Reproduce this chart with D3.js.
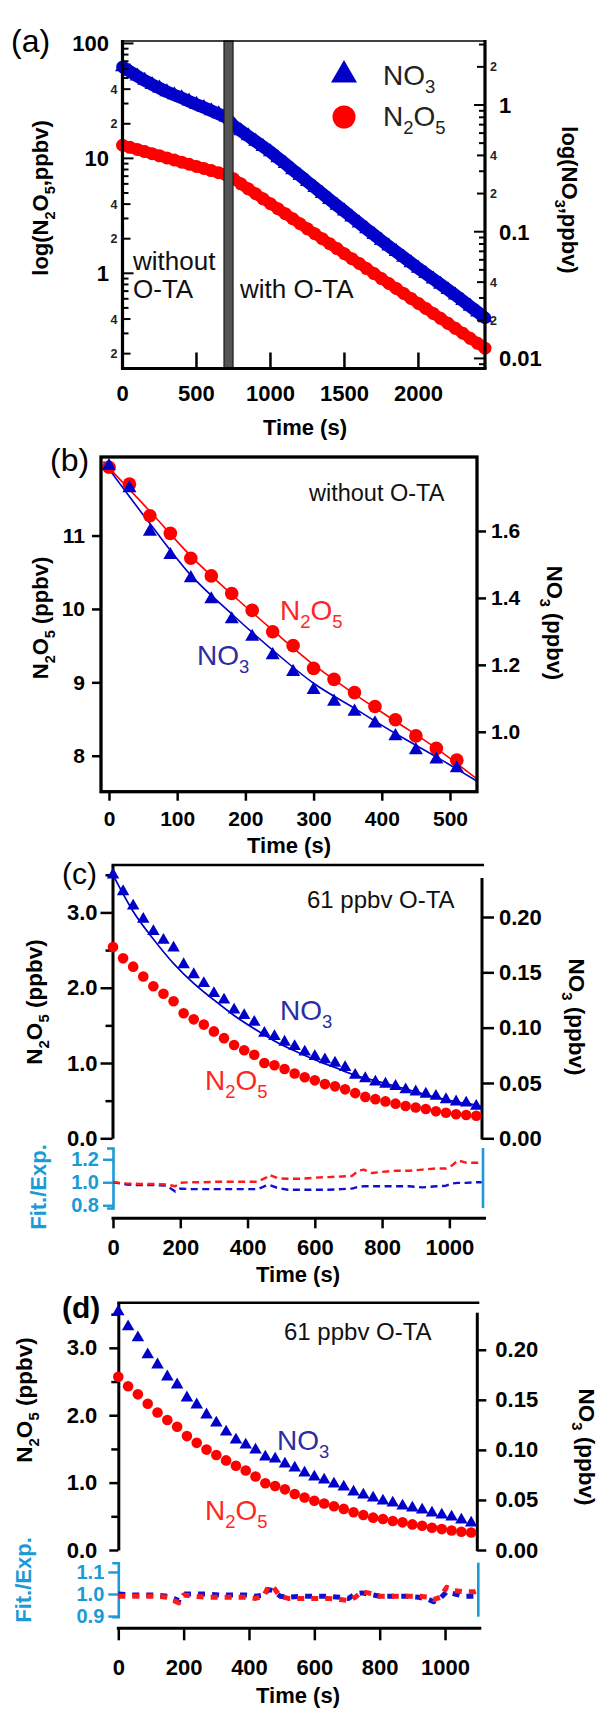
<!DOCTYPE html>
<html><head><meta charset="utf-8">
<script src="https://cdn.jsdelivr.net/npm/d3@7/dist/d3.min.js"></script>
<style>body{margin:0;background:#fff}</style>
</head><body>
<script>
// ---------------- DATA ----------------
// Panel (a): log plot, full experiment
const timeA = [0,50,100,150,200,250,300,350,400,450,500,550,600,650,700,750,800,850,900,950,1000,1050,1100,1150,1200,1250,1300,1350,1400,1450,1500,1550,1600,1650,1700,1750,1800,1850,1900,1950,2000,2050,2100,2150,2200,2250,2300,2350,2400,2450];
const no3A = [2.00,1.84,1.69,1.56,1.45,1.36,1.27,1.20,1.14,1.07,1.01,0.955,0.90,0.85,0.80,0.689,0.625,0.569,0.516,0.470,0.427,0.383,0.344,0.308,0.277,0.248,0.223,0.200,0.179,0.161,0.145,0.130,0.117,0.105,0.0946,0.0851,0.0769,0.0695,0.0628,0.0568,0.0513,0.0466,0.0423,0.0384,0.0348,0.0316,0.0285,0.0257,0.0232,0.0209];
const n2o5A = [13.0,12.47,11.97,11.46,10.99,10.52,10.09,9.68,9.27,8.89,8.51,8.17,7.83,7.50,7.19,6.64,6.00,5.43,4.92,4.45,4.03,3.65,3.30,2.99,2.70,2.44,2.21,2.00,1.81,1.64,1.48,1.34,1.22,1.10,0.995,0.90,0.815,0.738,0.668,0.604,0.547,0.495,0.448,0.406,0.367,0.332,0.301,0.272,0.246,0.223];
const otaBarA = [686, 747];
const xTicksA = [0,500,1000,1500,2000];

// Panel (b): without O-TA
const timeB = [0,30,60,90,120,150,180,210,240,270,300,330,360,390,420,450,480,510];
const n2o5B = [11.93,11.70,11.27,11.03,10.69,10.45,10.21,9.98,9.69,9.50,9.19,9.04,8.86,8.67,8.49,8.27,8.10,7.94];
const no3B = [1.794,1.728,1.598,1.528,1.459,1.396,1.336,1.284,1.229,1.179,1.125,1.090,1.060,1.025,0.987,0.945,0.917,0.891];
const fitTimeB = [-8,60,120,180,240,300,360,420,480,540];
const fitN2o5B = [12.0,11.33,10.72,10.20,9.71,9.24,8.84,8.47,8.10,7.68];
const fitNo3B = [1.807,1.622,1.468,1.352,1.244,1.145,1.070,0.995,0.925,0.852];
const xTicksB = [0,100,200,300,400,500];
const yTicksBL = [8,9,10,11];
const yTicksBR = [1.0,1.2,1.4,1.6];

// Panel (c): 61 ppbv O-TA, fit 1
const timeC = [0,30,60,90,120,150,180,210,240,270,300,330,360,390,420,450,480,510,540,570,600,630,660,690,720,750,780,810,840,870,900,930,960,990,1020,1050,1080];
const n2o5C = [2.54,2.39,2.28,2.15,2.02,1.92,1.82,1.66,1.58,1.51,1.42,1.33,1.24,1.17,1.11,1.00,0.97,0.92,0.86,0.81,0.77,0.72,0.69,0.65,0.60,0.55,0.52,0.49,0.46,0.43,0.41,0.39,0.36,0.34,0.32,0.31,0.30];
const no3C = [0.238,0.223,0.210,0.198,0.187,0.179,0.172,0.157,0.148,0.140,0.131,0.125,0.116,0.111,0.105,0.095,0.092,0.087,0.083,0.078,0.074,0.071,0.068,0.064,0.057,0.054,0.051,0.049,0.047,0.044,0.042,0.040,0.038,0.035,0.033,0.032,0.029];
const fitTimeC = [0,60,120,180,240,300,360,420,480,540,600,660,720,780,840,900,960,1020,1080,1096];
const fitNo3C = [0.238,0.205,0.180,0.158,0.140,0.125,0.111,0.099,0.088,0.079,0.071,0.064,0.057,0.052,0.047,0.042,0.037,0.033,0.030,0.029];
const resTimeC = [0,40,80,120,160,185,200,230,270,310,350,390,430,455,465,490,520,560,600,640,680,710,730,745,770,800,840,880,920,960,990,1010,1025,1050,1080,1096];
const resN2o5C = [1.00,0.99,0.985,0.985,0.98,0.965,0.995,1.0,1.0,1.005,1.005,1.005,1.005,1.04,1.065,1.035,1.03,1.03,1.04,1.045,1.05,1.055,1.10,1.11,1.08,1.09,1.10,1.10,1.11,1.12,1.12,1.15,1.19,1.17,1.17,1.17];
const resNo3C = [1.00,0.98,0.975,0.975,0.97,0.92,0.945,0.94,0.94,0.94,0.94,0.94,0.94,0.97,0.975,0.95,0.935,0.935,0.935,0.935,0.94,0.945,0.96,0.965,0.965,0.965,0.965,0.965,0.955,0.965,0.97,0.99,0.995,0.995,1.0,1.0];

// Panel (d): 61 ppbv O-TA, fit 2
const timeD = timeC;
const n2o5D = [2.57,2.43,2.31,2.17,2.04,1.93,1.83,1.69,1.59,1.49,1.41,1.33,1.25,1.18,1.09,0.99,0.95,0.90,0.83,0.78,0.73,0.69,0.65,0.61,0.56,0.52,0.48,0.46,0.43,0.41,0.38,0.36,0.33,0.31,0.29,0.27,0.26];
const no3D = [0.238,0.223,0.212,0.195,0.185,0.173,0.165,0.152,0.145,0.135,0.127,0.118,0.110,0.105,0.100,0.093,0.091,0.086,0.082,0.077,0.073,0.070,0.066,0.063,0.058,0.055,0.052,0.049,0.047,0.044,0.042,0.040,0.037,0.035,0.033,0.030,0.027];
const resTimeD = [0,40,80,120,150,170,185,200,230,270,310,350,390,420,445,460,475,495,520,560,600,640,680,705,725,745,765,800,840,880,920,950,965,985,1005,1030,1060,1090,1100];
const resN2o5D = [0.99,0.99,0.99,0.99,0.985,0.97,0.96,0.995,0.99,0.985,0.985,0.985,0.985,0.98,0.99,1.035,1.03,0.99,0.98,0.98,0.98,0.98,0.975,0.97,0.985,1.01,1.005,0.99,0.99,0.99,0.99,0.985,0.975,0.985,1.03,1.015,1.01,1.01,1.015];
const resNo3D = [1.0,0.995,0.995,0.995,0.99,0.98,0.97,1.0,1.0,1.0,0.995,0.995,0.995,0.99,0.995,1.02,1.015,0.99,0.985,0.99,0.99,0.99,0.985,0.98,1.0,1.005,1.0,0.99,0.99,0.99,0.985,0.975,0.965,0.98,1.01,1.0,0.99,0.99,1.0];

const xTicksCD = [0,200,400,600,800,1000];
const yTicksCDL = [0,1,2,3];
const yMinorCDL = [0.5,1.5,2.5,3.5];
const yTicksCDR = [0,0.05,0.10,0.15,0.20];
const resTicksC = [0.8,1.0,1.2];
const resTicksD = [0.9,1.0,1.1];

// ---------------- STYLE ----------------
const FONT = 'Arial, "Liberation Sans", sans-serif';
const BLUE = "#0000c8", RED = "#ff0000", NAVY = "#2c2ca4", LRED = "#ff2626", LB = "#1b9ad6";

const svg = d3.select("body").append("svg").attr("width",611).attr("height",1709)
  .style("font-family",FONT);

function rich(parent, x, y, parts, size, o={}) {
  const t = parent.append("text").attr("x",x).attr("y",y).attr("font-size",size)
    .attr("font-weight",o.bold?"bold":"normal").attr("fill",o.fill||"#000")
    .attr("text-anchor",o.anchor||"start").attr("font-family",FONT);
  if (o.rotate) t.attr("transform",`rotate(${o.rotate},${x},${y})`);
  let cur = 0;
  parts.forEach(p => {
    const sub = typeof p !== "string";
    const ts = t.append("tspan").text(sub ? p.sub : p);
    const want = sub ? size*0.3 : 0;
    if (want !== cur) { ts.attr("dy", want-cur); cur = want; }
    if (sub) ts.attr("font-size", size*0.66);
  });
  return t;
}
function styleAxis(g, o={}) {
  const color = o.color||"#000";
  g.attr("font-family",FONT).attr("font-size",o.fs||22).attr("font-weight","bold");
  g.selectAll("path.domain").attr("stroke",color).attr("stroke-width",o.sw||3);
  g.selectAll(".tick line").attr("stroke",color).attr("stroke-width",o.tw||2.5);
  g.selectAll(".tick text").attr("fill",color);
  if (o.noDomain) g.selectAll("path.domain").remove();
  return g;
}
const triArea = s => s*s*Math.sqrt(3)/4;
function triangles(g, xs, ys, xsc, ysc, side, color) {
  g.selectAll(null).data(ys).join("path")
    .attr("transform",(d,i)=>`translate(${xsc(xs[i])},${ysc(d)})`)
    .attr("d", d3.symbol(d3.symbolTriangle, triArea(side))())
    .attr("fill",color);
}
function circles(g, xs, ys, xsc, ysc, r, color) {
  g.selectAll(null).data(ys).join("circle")
    .attr("cx",(d,i)=>xsc(xs[i])).attr("cy",d=>ysc(d)).attr("r",r).attr("fill",color);
}
function pathLine(g, xs, ys, xsc, ysc, color, w, curve, dash) {
  const p = g.append("path").datum(ys)
    .attr("d", d3.line().x((d,i)=>xsc(xs[i])).y(d=>ysc(d)).curve(curve||d3.curveLinear))
    .attr("fill","none").attr("stroke",color).attr("stroke-width",w)
    .attr("stroke-linejoin","round");
  if (dash) p.attr("stroke-dasharray",dash);
  return p;
}

// ---------------- PANEL (a) ----------------
{
  const g = svg.append("g");
  const xA = d3.scaleLinear().domain([0,2450]).range([122.5,485]);
  const yAL = d3.scaleLog().domain([0.15,105]).range([368,41]);
  const yAR = d3.scaleLog().domain([0.0084,3.2]).range([368,41]);

  pathLine(g, timeA, n2o5A, xA, yAL, RED, 11).attr("stroke-linecap","round");
  circles(g, timeA, n2o5A, xA, yAL, 6.5, RED);
  pathLine(g, timeA, no3A, xA, yAR, BLUE, 12.5).attr("stroke-linecap","round");
  triangles(g, timeA, no3A, xA, yAR, 15, BLUE);

  // O-TA addition bar
  g.append("rect").attr("x",xA(otaBarA[0])).attr("y",41)
    .attr("width",xA(otaBarA[1])-xA(otaBarA[0])).attr("height",327)
    .attr("fill","#555").attr("stroke","#1a1a1a").attr("stroke-width",1.2);

  // frame
  g.append("line").attr("x1",122.5).attr("x2",485).attr("y1",41).attr("y2",41).attr("stroke","#000").attr("stroke-width",1.5);
  g.append("line").attr("x1",121).attr("x2",486.5).attr("y1",368.5).attr("y2",368.5).attr("stroke","#000").attr("stroke-width",3);
  g.append("line").attr("x1",122.5).attr("x2",122.5).attr("y1",40).attr("y2",369).attr("stroke","#000").attr("stroke-width",3.2);
  g.append("line").attr("x1",485).attr("x2",485).attr("y1",40).attr("y2",369).attr("stroke","#000").attr("stroke-width",3.2);

  // log ticks (inward)
  const tl = m => m===1 ? 11 : (m===2||m===4 ? 8 : 6);
  yAL.ticks().forEach(v => {
    const m = Math.round(v/Math.pow(10,Math.floor(Math.log10(v)+1e-9)));
    g.append("line").attr("x1",122.5).attr("x2",122.5+tl(m)).attr("y1",yAL(v)).attr("y2",yAL(v))
      .attr("stroke","#000").attr("stroke-width",2);
    if (m===1) g.append("text").attr("x",109).attr("y",yAL(v)+8).attr("text-anchor","end")
      .attr("font-size",22).attr("font-weight","bold").text(d3.format("d")(v));
    else if (m===2||m===4) g.append("text").attr("x",117.5).attr("y",yAL(v)+4.5).attr("text-anchor","end")
      .attr("font-size",12.5).attr("font-weight","bold").attr("fill","#222").text(m);
  });
  yAR.ticks().forEach(v => {
    const m = Math.round(v/Math.pow(10,Math.floor(Math.log10(v)+1e-9)));
    g.append("line").attr("x1",485).attr("x2",485-tl(m)).attr("y1",yAR(v)).attr("y2",yAR(v))
      .attr("stroke","#000").attr("stroke-width",2);
    if (m===1) g.append("text").attr("x",499).attr("y",yAR(v)+8)
      .attr("font-size",22).attr("font-weight","bold").text(String(v));
    else if (m===2||m===4) g.append("text").attr("x",490).attr("y",yAR(v)+4.5)
      .attr("font-size",12.5).attr("font-weight","bold").attr("fill","#222").text(m);
  });
  xTicksA.forEach(v => {
    g.append("line").attr("x1",xA(v)).attr("x2",xA(v)).attr("y1",368).attr("y2",352.5)
      .attr("stroke","#000").attr("stroke-width",2.5);
    g.append("text").attr("x",xA(v)).attr("y",401).attr("text-anchor","middle")
      .attr("font-size",22).attr("font-weight","bold").text(v);
  });
  g.append("text").attr("x",305).attr("y",435).attr("text-anchor","middle")
    .attr("font-size",22).attr("font-weight","bold").text("Time (s)");
  rich(g, 48, 198, ["log(N",{sub:"2"},"O",{sub:"5"},",ppbv)"], 22, {bold:true,anchor:"middle",rotate:-90});
  rich(g, 562, 200, ["log(NO",{sub:"3"},",ppbv)"], 22, {bold:true,anchor:"middle",rotate:90});
  g.append("text").attr("x",11).attr("y",52).attr("font-size",32).text("(a)");
  g.append("text").attr("x",133).attr("y",270).attr("font-size",26).attr("fill","#111").text("without");
  g.append("text").attr("x",133).attr("y",298).attr("font-size",26).attr("fill","#111").text("O-TA");
  g.append("text").attr("x",240).attr("y",298).attr("font-size",26).attr("fill","#111").text("with O-TA");
  // legend
  g.append("path").attr("transform","translate(344,75)").attr("d",d3.symbol(d3.symbolTriangle,triArea(26))()).attr("fill",BLUE);
  g.append("circle").attr("cx",344).attr("cy",117).attr("r",11.5).attr("fill",RED);
  rich(g, 383, 85, ["NO",{sub:"3"}], 28, {fill:"#222"});
  rich(g, 383, 126, ["N",{sub:"2"},"O",{sub:"5"}], 28, {fill:"#222"});
}

// ---------------- PANEL (b) ----------------
{
  const g = svg.append("g");
  const xB = d3.scaleLinear().domain([-11.7,539.6]).range([101,477]);
  const yBL = d3.scaleLinear().domain([7.51,12.07]).range([791.7,457]);
  const yBR = d3.scaleLinear().domain([0.821,1.821]).range([791.7,457]);

  styleAxis(g.append("g").attr("transform","translate(101,0)")
    .call(d3.axisLeft(yBL).tickValues(yTicksBL).tickSize(9).tickPadding(7).tickFormat(d3.format("d"))), {fs:21,noDomain:true});
  styleAxis(g.append("g").attr("transform","translate(477,0)")
    .call(d3.axisRight(yBR).tickValues(yTicksBR).tickSize(9).tickPadding(5).tickFormat(d3.format(".1f"))), {fs:21,noDomain:true});
  styleAxis(g.append("g").attr("transform","translate(0,791.7)")
    .call(d3.axisBottom(xB).tickValues(xTicksB).tickSize(9).tickPadding(10).tickFormat(d3.format("d"))), {fs:21,noDomain:true});

  g.append("clipPath").attr("id","clipB").append("rect").attr("x",101).attr("y",457).attr("width",376).attr("height",334.7);
  const inner = g.append("g").attr("clip-path","url(#clipB)");
  pathLine(inner, fitTimeB, fitN2o5B, xB, yBL, RED, 1.6, d3.curveMonotoneX);
  pathLine(inner, fitTimeB, fitNo3B, xB, yBR, BLUE, 1.6, d3.curveMonotoneX);
  const mk = g.append("g");
  circles(mk, timeB, n2o5B, xB, yBL, 6.8, RED);
  triangles(mk, timeB, no3B, xB, yBR, 14, BLUE);

  g.append("rect").attr("x",101).attr("y",457).attr("width",376).attr("height",334.7)
    .attr("fill","none").attr("stroke","#000").attr("stroke-width",3.3);

  g.append("text").attr("x",289).attr("y",853).attr("text-anchor","middle")
    .attr("font-size",22).attr("font-weight","bold").text("Time (s)");
  rich(g, 48, 618, ["N",{sub:"2"},"O",{sub:"5"}," (ppbv)"], 22, {bold:true,anchor:"middle",rotate:-90});
  rich(g, 547, 623, ["NO",{sub:"3"}," (ppbv)"], 22, {bold:true,anchor:"middle",rotate:90});
  g.append("text").attr("x",50).attr("y",471).attr("font-size",32).text("(b)");
  g.append("text").attr("x",309).attr("y",501).attr("font-size",23.5).attr("fill","#111").text("without O-TA");
  rich(g, 280, 620, ["N",{sub:"2"},"O",{sub:"5"}], 28, {fill:LRED});
  rich(g, 197, 665, ["NO",{sub:"3"}], 28, {fill:NAVY});
}

// ---------------- PANELS (c) & (d) ----------------
function kineticPanel(cfg) {
  const g = svg.append("g");
  const x = d3.scaleLinear().domain([0,1100]).range([cfg.x0, cfg.x1]);
  const yL = d3.scaleLinear().domain([0,cfg.lMax]).range([cfg.yb, cfg.yt]);
  const yR = d3.scaleLinear().domain([0,0.247]).range([cfg.yb, cfg.yt]);
  const r = d3.scaleLinear().domain(cfg.rDom).range([cfg.rb, cfg.rt]);

  // left main axis
  styleAxis(g.append("g").attr("transform",`translate(${cfg.ax},0)`)
    .call(d3.axisLeft(yL).tickValues(yTicksCDL).tickSize(cfg.tl).tickSizeOuter(0).tickPadding(cfg.lpad).tickFormat(d3.format(".1f"))), {fs:22});
  styleAxis(g.append("g").attr("transform",`translate(${cfg.ax},0)`)
    .call(d3.axisLeft(yL).tickValues(yMinorCDL).tickSize(7).tickFormat("")), {noDomain:true});
  // right main axis
  styleAxis(g.append("g").attr("transform",`translate(${cfg.bx},0)`)
    .call(d3.axisRight(yR).tickValues(yTicksCDR).tickSize(cfg.tl).tickPadding(cfg.rpad).tickFormat(d3.format(".2f"))), {fs:22,noDomain:true});
  g.append("line").attr("x1",cfg.bx).attr("x2",cfg.bx).attr("y1",cfg.rTop).attr("y2",cfg.yb+1.2).attr("stroke","#000").attr("stroke-width",3);
  // top line
  g.append("line").attr("x1",cfg.ax-1).attr("x2",cfg.bx+2).attr("y1",cfg.yt).attr("y2",cfg.yt).attr("stroke","#000").attr("stroke-width",2.5);

  // residual axes
  styleAxis(g.append("g").attr("transform",`translate(${cfg.x0},0)`)
    .call(d3.axisLeft(r).tickValues(cfg.rTicks).tickSize(10).tickSizeOuter(6).tickPadding(4).tickFormat(d3.format(".1f"))), {fs:20,color:LB,sw:2.6,tw:2.4});
  g.append("line").attr("x1",cfg.bx+1).attr("x2",cfg.bx+1).attr("y1",cfg.rt).attr("y2",cfg.rb).attr("stroke",LB).attr("stroke-width",2.6);

  // x axis
  styleAxis(g.append("g").attr("transform",`translate(0,${cfg.xy})`)
    .call(d3.axisBottom(x).tickValues(xTicksCD).tickSize(cfg.xtl).tickPadding(cfg.xpad).tickFormat(d3.format("d"))), {fs:22,noDomain:true});
  g.append("line").attr("x1",cfg.x0-1.5).attr("x2",cfg.bx+4).attr("y1",cfg.xy).attr("y2",cfg.xy).attr("stroke","#000").attr("stroke-width",3);

  // data
  const dg = g.append("g");
  if (cfg.fitNo3) pathLine(dg, cfg.fitT, cfg.fitNo3, x, yR, BLUE, 1.6, d3.curveMonotoneX);
  circles(dg, cfg.t, cfg.n2o5, x, yL, 5.3, RED);
  triangles(dg, cfg.t, cfg.no3, x, yR, 12.5, BLUE);
  if (cfg.fitNo3) pathLine(dg, cfg.fitT, cfg.fitNo3, x, yR, BLUE, 1.2, d3.curveMonotoneX).attr("opacity",0.6);

  // residuals
  pathLine(dg, cfg.resT, cfg.resNo3, x, r, "#1010d0", cfg.rw, d3.curveLinear, cfg.dash);
  pathLine(dg, cfg.resT, cfg.resN2o5, x, r, "#ff1a1a", cfg.rw, d3.curveLinear, cfg.dash);

  // texts
  g.append("text").attr("x",(cfg.x0+cfg.x1)/2).attr("y",cfg.timeY).attr("text-anchor","middle")
    .attr("font-size",22).attr("font-weight","bold").text("Time (s)");
  rich(g, cfg.llx, cfg.lly, ["N",{sub:"2"},"O",{sub:"5"}," (ppbv)"], 22.5, {bold:true,anchor:"middle",rotate:-90});
  rich(g, cfg.rlx, cfg.rly, ["NO",{sub:"3"}," (ppbv)"], 22.5, {bold:true,anchor:"middle",rotate:90});
  rich(g, cfg.fex, cfg.fey, ["Fit./Exp."], 22, {bold:true,anchor:"middle",rotate:-90,fill:LB});
  g.append("text").attr("x",62).attr("y",cfg.tagY).attr("font-size",30)
    .attr("font-weight",cfg.tagBold?"bold":"normal").text(cfg.tag);
  g.append("text").attr("x",cfg.otaX).attr("y",cfg.otaY).attr("font-size",24).attr("fill","#111").text("61 ppbv O-TA");
  rich(g, cfg.no3X, cfg.no3Y, ["NO",{sub:"3"}], 28, {fill:NAVY});
  rich(g, cfg.n2X, cfg.n2Y, ["N",{sub:"2"},"O",{sub:"5"}], 28, {fill:LRED});
}

kineticPanel({
  x0:113, x1:483, ax:112.5, bx:482, yt:865, yb:1138.3, rTop:878, lMax:3.63,
  tl:12, lpad:3, rpad:5,
  rDom:[0.776,1.298], rb:1208, rt:1148, rTicks:resTicksC,
  xy:1218.3, xtl:10, xpad:10.7, timeY:1282,
  t:timeC, n2o5:n2o5C, no3:no3C, fitT:fitTimeC, fitNo3:fitNo3C,
  resT:resTimeC, resN2o5:resN2o5C, resNo3:resNo3C, rw:2.4, dash:"7,4.5",
  llx:42, lly:1002, rlx:569, rly:1017, fex:46, fey:1187,
  tag:"(c)", tagY:884, tagBold:false, otaX:307, otaY:908,
  no3X:280, no3Y:1020, n2X:205, n2Y:1090
});
kineticPanel({
  x0:118.3, x1:477.7, ax:118.3, bx:477.3, yt:1302.7, yb:1550, rTop:1312.7, lMax:3.67,
  tl:9, lpad:12, rpad:9,
  rDom:[0.897,1.142], rb:1616.7, rt:1562.7, rTicks:resTicksD,
  xy:1628.3, xtl:12, xpad:18.7, timeY:1703,
  t:timeD, n2o5:n2o5D, no3:no3D, fitT:null, fitNo3:null,
  resT:resTimeD, resN2o5:resN2o5D, resNo3:resNo3D, rw:5, dash:"7,7",
  llx:32, lly:1400, rlx:579, rly:1447, fex:31, fey:1580,
  tag:"(d)", tagY:1318, tagBold:true, otaX:284, otaY:1340,
  no3X:277, no3Y:1450, n2X:205, n2Y:1520
});
</script>
</body></html>
